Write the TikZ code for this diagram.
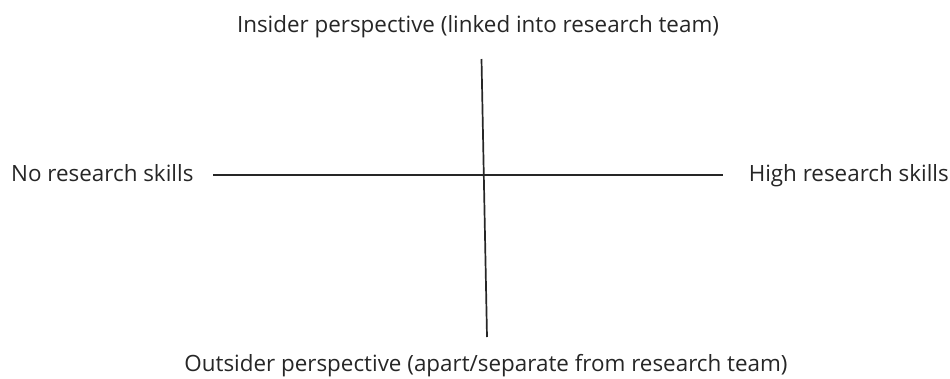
\documentclass[tikz,border=0pt]{standalone}
\usepackage{fontspec}
\setmainfont{Open Sans}
\usetikzlibrary{positioning}

\begin{document}
\begin{tikzpicture}[
  x=1pt, y=-1pt,
  lbl/.style={inner sep=0pt, text=black!85, font=\fontsize{22.4}{24}\selectfont},
  axis/.style={line width=1.7pt, black!85},
]
\useasboundingbox (0,0) rectangle (950,378);

% axis end points
\coordinate (top) at (481.5,59);
\coordinate (bottom) at (487,337);
\coordinate (left) at (213,175);
\coordinate (right) at (723,175);

% labels
\node[lbl, anchor=base] (insider) at (478,32) {Insider perspective (linked into research team)};
\node[lbl, anchor=base] (outsider) at (486,371.5) {Outsider perspective (apart/separate from research team)};
\node[lbl, anchor=base west] (noskills) at (11,181.5) {No research skills};
\node[lbl, anchor=base east] (highskills) at (949,181.5) {High research skills};

% axes
\draw[axis] (top) -- (bottom);
\draw[axis] (left) -- (right);

\end{tikzpicture}
\end{document}
